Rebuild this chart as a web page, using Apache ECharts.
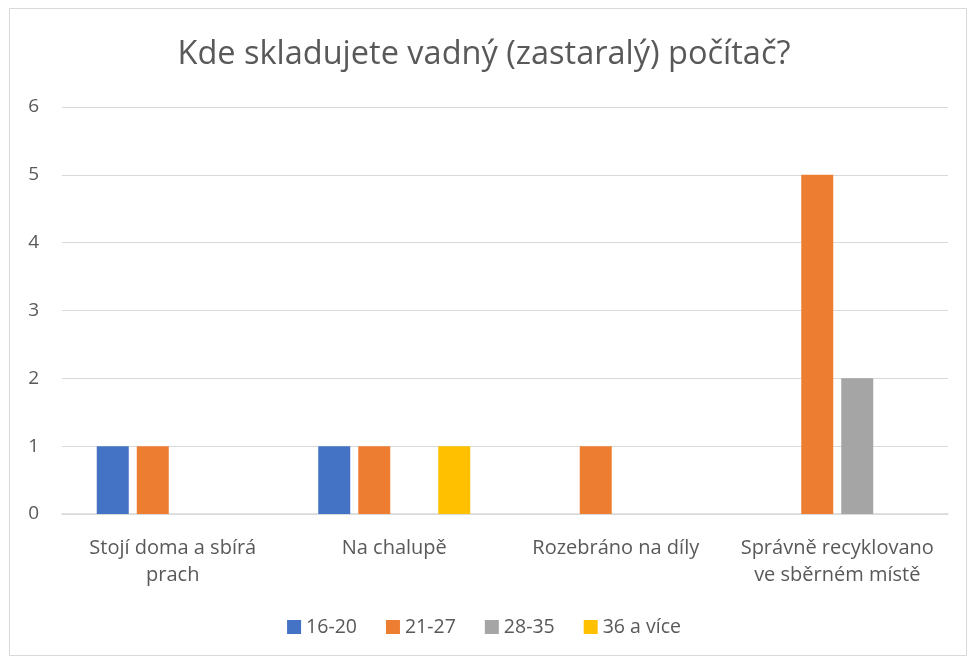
<!DOCTYPE html>
<html><head><meta charset="utf-8">
<script src="https://cdn.jsdelivr.net/npm/echarts@6/dist/echarts.min.js"></script>
<style>html,body{margin:0;padding:0;background:#fff}#c{width:968px;height:660px}</style>
</head><body><div id="c"></div>
<script>
var titleText = 'Kde skladujete vadný (zastaralý) počítač?';
var categories = ['Stojí doma a sbírá\nprach', 'Na chalupě', 'Rozebráno na díly', 'Správně recyklovano\nve sběrném místě'];
var seriesNames = ['16-20', '21-27', '28-35', '36 a více'];
var s1620 = [1, 1, 0, 0];
var s2127 = [1, 1, 1, 5];
var s2835 = [0, 0, 0, 2];
var s36 = [0, 1, 0, 0];
var colors = ['#4472C4', '#ED7D31', '#A5A5A5', '#FFC000'];
var font = 'Open Sans';
var chart = echarts.init(document.getElementById('c'));
var data = [s1620, s2127, s2835, s36];
chart.setOption({
  animation: false,
  color: colors,
  title: {text: titleText, left: 'center', top: 33,
    textStyle: {fontFamily: font, fontSize: 32.5, fontWeight: 'normal', color: '#595959'}},
  graphic: [{type: 'rect', shape: {x: 9.5, y: 8.5, width: 957, height: 647},
    style: {fill: 'none', stroke: '#d9d9d9', lineWidth: 1}, silent: true}],
  legend: {bottom: 18, left: 'center', itemWidth: 14, itemHeight: 14, itemGap: 29,
    icon: 'rect', textStyle: {fontFamily: font, fontSize: 19.5, color: '#595959'}},
  grid: {left: 62, right: 20, top: 107, bottom: 146},
  xAxis: {type: 'category', data: categories,
    axisLine: {lineStyle: {color: '#d9d9d9', width: 1.5}}, axisTick: {show: false},
    axisLabel: {fontFamily: font, fontSize: 20, color: '#595959', margin: 21, lineHeight: 27, interval: 0}},
  yAxis: {type: 'value', min: 0, max: 6, interval: 1,
    axisLine: {show: false}, axisTick: {show: false},
    splitLine: {lineStyle: {color: '#d9d9d9', width: 1}},
    axisLabel: {fontFamily: font, fontSize: 19, color: '#595959', margin: 23}},
  series: seriesNames.map(function (n, i) {
    return {name: n, type: 'bar', data: data[i], barWidth: 32, barGap: '25%'};
  })
});
</script></body></html>
